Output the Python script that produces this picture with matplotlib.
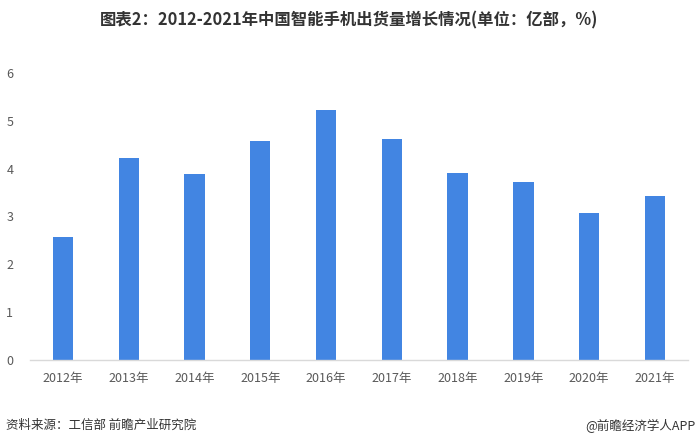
import matplotlib
matplotlib.use("Agg")
import matplotlib.pyplot as plt

plt.rcParams['font.family'] = ['Noto Sans CJK SC', 'DejaVu Sans']

# data
years = ['2012年', '2013年', '2014年', '2015年', '2016年',
         '2017年', '2018年', '2019年', '2020年', '2021年']
shipments = [2.57, 4.23, 3.89, 4.58, 5.23, 4.62, 3.91, 3.72, 3.08, 3.43]
yticks = [0, 1, 2, 3, 4, 5, 6]

fig = plt.figure(figsize=(6.99, 4.47), dpi=100)
ax = fig.add_axes([0.043, 0.195, 0.941, 0.642])

ax.bar(range(len(years)), shipments, width=0.31, color='#4285E2')
ax.set_xlim(-0.5, len(years) - 0.5)
ax.set_ylim(0, 6)
ax.set_yticks(yticks)
ax.set_xticks(range(len(years)))
ax.set_xticklabels(years)

for s in ['top', 'right', 'left']:
    ax.spines[s].set_visible(False)
ax.spines['bottom'].set_color('#D9D9D9')
ax.spines['bottom'].set_linewidth(1)
ax.tick_params(axis='both', length=0, labelsize=9, colors='#595959')
ax.tick_params(axis='x', pad=9)
ax.tick_params(axis='y', pad=12)

fig.text(0.5, 0.955, '图表2：2012-2021年中国智能手机出货量增长情况(单位：亿部，%)',
         ha='center', va='center', fontsize=11.8, fontweight='bold', color='#333333')
fig.text(0.008, 0.048, '资料来源：工信部 前瞻产业研究院',
         ha='left', va='center', fontsize=9, color='#333333')
fig.text(0.995, 0.048, '@前瞻经济学人APP',
         ha='right', va='center', fontsize=9, color='#333333')

fig.savefig('out.png', dpi=100)
